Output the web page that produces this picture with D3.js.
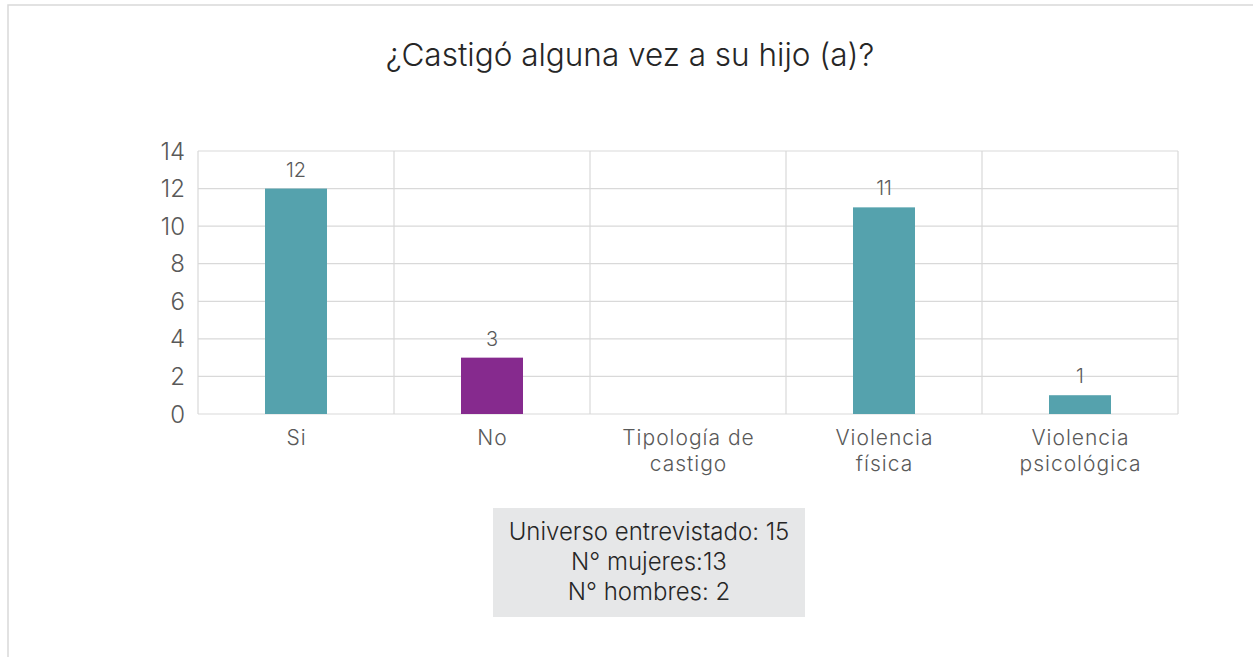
<!DOCTYPE html>
<html>
<head>
<meta charset="utf-8">
<script src="https://cdn.jsdelivr.net/npm/d3@7"></script>
<style>
  html, body { margin: 0; padding: 0; background: #fff; }
  svg { display: block; font-family: Inter, "Open Sans", sans-serif; font-weight: 300; }
</style>
</head>
<body>
<svg id="chart" width="1253" height="657"></svg>
<script>
const title = "¿Castigó alguna vez a su hijo (a)?";
const categories = [["Si"], ["No"], ["Tipología de", "castigo"], ["Violencia", "física"], ["Violencia", "psicológica"]];
const values = [12, 3, null, 11, 1];
const barColors = ["#55a2ad", "#862a8e", "#55a2ad", "#55a2ad", "#55a2ad"];
const yTicks = [0, 2, 4, 6, 8, 10, 12, 14];
const noteLines = ["Universo entrevistado: 15", "N° mujeres:13", "N° hombres: 2"];

const svg = d3.select("#chart");

// outer frame
svg.append("rect").attr("x", 8).attr("y", 5).attr("width", 1260).attr("height", 670)
  .attr("fill", "none").attr("stroke", "#d9d9d9").attr("stroke-width", 1.5);

svg.append("text").attr("x", 630).attr("y", 66).attr("text-anchor", "middle")
  .attr("font-size", 31.5).attr("fill", "#262626").text(title);

const plot = { left: 198, right: 1178, top: 151, bottom: 414 };
const x = d3.scaleBand().domain(d3.range(categories.length)).range([plot.left, plot.right]).paddingInner(0).paddingOuter(0);
const y = d3.scaleLinear().domain([0, 14]).range([plot.bottom, plot.top]);

const g = svg.append("g");

// horizontal gridlines
g.selectAll(".hgrid").data(yTicks).join("line")
  .attr("x1", plot.left).attr("x2", plot.right)
  .attr("y1", d => y(d)).attr("y2", d => y(d))
  .attr("stroke", "#d9d9d9").attr("stroke-width", 1.2);

// vertical gridlines at category boundaries
const bounds = d3.range(categories.length + 1).map(i => plot.left + i * x.step());
g.selectAll(".vgrid").data(bounds).join("line")
  .attr("x1", d => d).attr("x2", d => d)
  .attr("y1", plot.top).attr("y2", plot.bottom)
  .attr("stroke", "#d9d9d9").attr("stroke-width", 1.2);

// y axis labels
g.selectAll(".ytick").data(yTicks).join("text")
  .attr("x", 185).attr("y", d => y(d)).attr("dy", "0.36em")
  .attr("text-anchor", "end").attr("font-size", 24).attr("fill", "#595959")
  .text(d => d);

// bars
const barW = 62;
const data = values.map((v, i) => ({ i, v })).filter(d => d.v != null);
g.selectAll(".bar").data(data).join("rect")
  .attr("x", d => x(d.i) + x.bandwidth() / 2 - barW / 2)
  .attr("width", barW)
  .attr("y", d => y(d.v))
  .attr("height", d => y(0) - y(d.v))
  .attr("fill", d => barColors[d.i]);

// value labels
g.selectAll(".val").data(data).join("text")
  .attr("x", d => x(d.i) + x.bandwidth() / 2)
  .attr("y", d => y(d.v) - 12)
  .attr("text-anchor", "middle").attr("font-size", 20).attr("fill", "#595959")
  .text(d => d.v);

// category labels, wrapped onto separate lines
categories.forEach((lines, i) => {
  lines.forEach((ln, k) => {
    g.append("text").attr("text-anchor", "middle")
      .attr("font-size", 21).attr("letter-spacing", 1).attr("fill", "#595959")
      .attr("x", x(i) + x.bandwidth() / 2 + 0.5)
      .attr("y", 445 + k * 26).text(ln);
  });
});

// sample note box
svg.append("rect").attr("x", 493).attr("y", 508).attr("width", 312).attr("height", 109)
  .attr("fill", "#e6e7e8");
svg.selectAll(".note").data(noteLines).join("text")
  .attr("x", 649).attr("y", (d, i) => 540 + i * 30)
  .attr("text-anchor", "middle").attr("font-size", 24).attr("fill", "#262626")
  .text(d => d);
</script>
</body>
</html>
